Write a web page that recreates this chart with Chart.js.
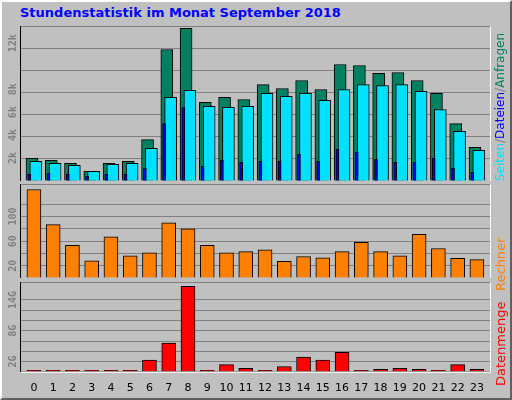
<!DOCTYPE html>
<html><head><meta charset="utf-8">
<script src="https://cdn.jsdelivr.net/npm/chart.js@4"></script>
<style>
html,body{margin:0;padding:0;}
body{width:512px;height:400px;background:#c0c0c0;position:relative;overflow:hidden;font-family:"DejaVu Sans";}
#frame{position:absolute;left:0;top:0;width:508px;height:396px;border-top:2px solid #ffffff;border-left:2px solid #ffffff;border-right:2px solid #606060;border-bottom:2px solid #606060;box-sizing:content-box;}
.c{position:absolute;left:0;}
#title{position:absolute;left:20px;top:5px;font:bold 13px "DejaVu Sans";color:#0000ff;}
.rt{position:absolute;white-space:nowrap;font:13px "DejaVu Sans";transform-origin:0 0;transform:rotate(-90deg);}
</style></head><body>
<div id="frame"></div>
<div id="title">Stundenstatistik im Monat September 2018</div>
<div class="c" style="top:26px;width:512px;height:155px"><canvas id="c1"></canvas></div>
<div class="c" style="top:184px;width:512px;height:94px"><canvas id="c2"></canvas></div>
<div class="c" style="top:282px;width:512px;height:115px"><canvas id="c3"></canvas></div>
<div class="rt" style="left:493px;top:181px;font-size:12px"><span style="color:#00e0ff">Seiten</span><span style="color:#808080">/</span><span style="color:#0000ff">Dateien</span><span style="color:#808080">/</span><span style="color:#008060">Anfragen</span></div>
<div class="rt" style="left:493px;top:291px;color:#ff8000">Rechner</div>
<div class="rt" style="left:493px;top:386px;color:#ff0000">Datenmenge</div>
<script>
const hours = [0,1,2,3,4,5,6,7,8,9,10,11,12,13,14,15,16,17,18,19,20,21,22,23];
const anfragen = [1970,1800,1540,840,1540,1720,3600,11450,13300,6850,7280,7100,8400,8060,8750,7970,10150,10060,9370,9450,8750,7630,5000,2930];
const dateien = [1720,1540,1370,840,1450,1540,2840,7280,7890,6500,6410,6500,7630,7370,7630,7020,7970,8400,8320,8400,7800,6230,4320,2670];
const seiten = [580,670,580,410,580,580,1100,5000,6400,1280,1800,1630,1720,1720,2320,1720,2750,2500,1890,1630,1630,1970,1100,750];
const rechner = [144,87,53,28,67,36,41,90,80,53,41,43,46,27,35,33,43,58,43,36,71,48,32,30];
const datenmengeG = [0.3,0.3,0.3,0.3,0.3,0.3,2.3,5.6,16.65,0.3,1.4,0.66,0.3,1.03,2.87,2.3,3.8,0.3,0.48,0.66,0.48,0.3,1.4,0.48];
const labels1 = [[2000,'2k'],[4000,'4k'],[6000,'6k'],[8000,'8k'],[12000,'12k']];
const labels2 = [[20,'20'],[60,'60'],[100,'100']];
const labels3 = [[2,'2G'],[8,'8G'],[14,'14G']];

function pts(arr, off){ return hours.map((h,i)=>({x:h+off,y:arr[i]})); }

function makeChart(id, datasets, ymax, step, ylabels, showX){
  const plug = {
    id:'deco',
    afterDraw(chart){
      const ctx=chart.ctx, a=chart.chartArea, ys=chart.scales.y;
      ctx.save();
      ctx.lineWidth=1;
      ctx.strokeStyle='#000';
      ctx.beginPath();ctx.moveTo(a.left-0.5,a.bottom);ctx.lineTo(a.left-0.5,a.top-0.5);ctx.lineTo(a.right,a.top-0.5);ctx.stroke();
      ctx.strokeStyle='#fff';
      ctx.beginPath();ctx.moveTo(a.right+0.5,a.top);ctx.lineTo(a.right+0.5,a.bottom+0.5);ctx.lineTo(a.left,a.bottom+0.5);ctx.stroke();
      ctx.fillStyle='#808080';
      ctx.font='bold 10px "DejaVu Sans Mono"';
      ctx.textAlign='center';ctx.textBaseline='middle';
      ylabels.forEach(([v,t])=>{
        const y=ys.getPixelForValue(v);
        ctx.save();ctx.translate(13,y);ctx.rotate(-Math.PI/2);ctx.fillText(t,0,0);ctx.restore();
      });
      ctx.restore();
    }
  };
  return new Chart(document.getElementById(id),{
    type:'bar',
    data:{datasets},
    plugins:[plug],
    options:{
      responsive:true,maintainAspectRatio:false,animation:false,
      layout:{padding:{left:21,right:22,top:0,bottom:0}},
      plugins:{legend:{display:false},tooltip:{enabled:false}},
      datasets:{bar:{grouped:false}},
      scales:{
        x:{type:'linear',min:-0.67,max:23.68,display:showX,offset:false,
           grid:{display:false},border:{display:false},
           afterBuildTicks(s){s.ticks=hours.map(h=>({value:h}));},
           ticks:{color:'#000',font:{family:'DejaVu Sans',size:11},padding:2,maxRotation:0,autoSkip:false}},
        y:{min:0,max:ymax,
           afterFit(s){s.width=0;},
           border:{display:false},
           grid:{color:'#808080',drawTicks:false,lineWidth:1},
           ticks:{display:false,stepSize:step}}
      }
    }
  });
}

makeChart('c1',[
  {data:pts(seiten,-0.24),backgroundColor:'#0000ff',borderColor:'#000',borderWidth:1,barThickness:3,grouped:false},
  {data:pts(dateien,0.1),backgroundColor:'#00e0ff',borderColor:'#000',borderWidth:1,barThickness:12,grouped:false},
  {data:pts(anfragen,-0.1),backgroundColor:'#008060',borderColor:'#000',borderWidth:1,barThickness:12,grouped:false}
],13500,2000,labels1,false);
makeChart('c2',[
  {data:pts(rechner,0),backgroundColor:'#ff8000',borderColor:'#000',borderWidth:1,barThickness:14}
],153,20,labels2,false);
makeChart('c3',[
  {data:pts(datenmengeG,0),backgroundColor:'#ff0000',borderColor:'#000',borderWidth:1,barThickness:14}
],17.5,2,labels3,true);
</script>
</body></html>
